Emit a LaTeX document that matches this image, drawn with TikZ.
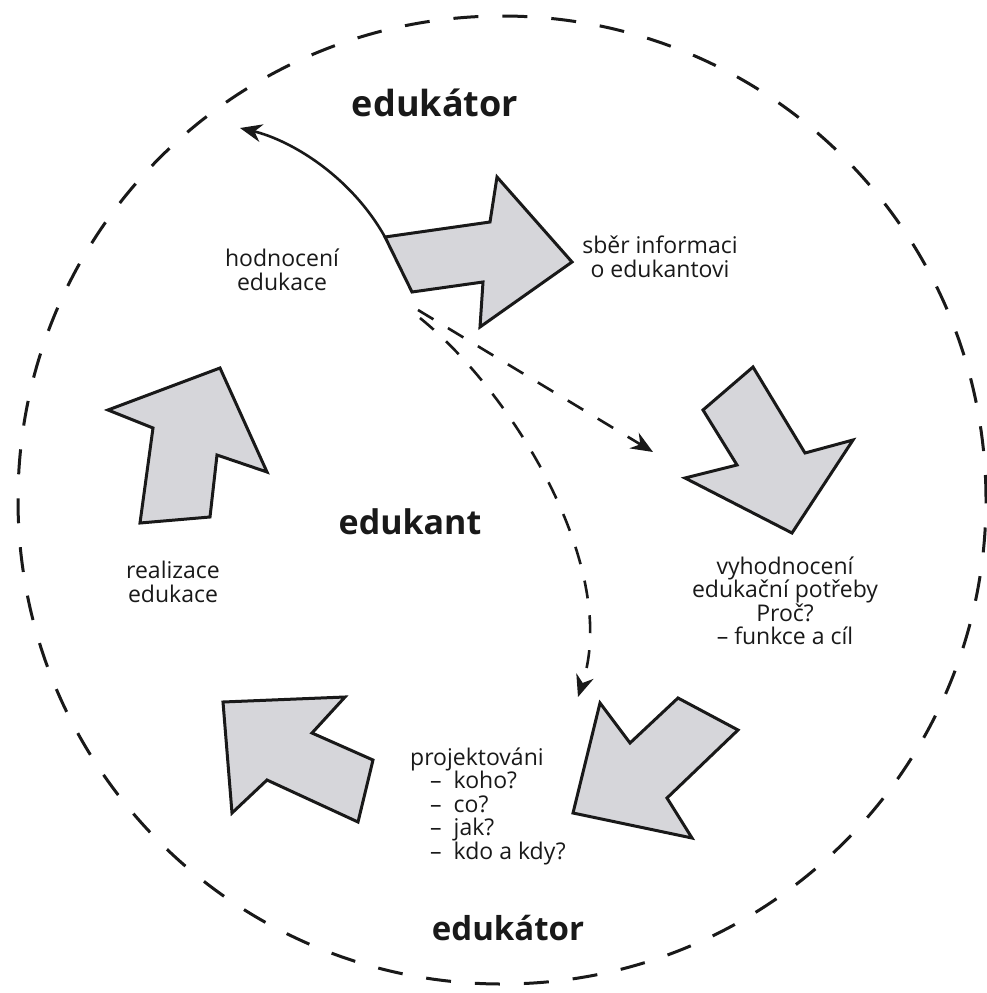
\documentclass[tikz,border=0pt]{standalone}
\usepackage{fontspec}
\setmainfont{Open Sans}
\usetikzlibrary{arrows.meta}
\definecolor{arrowfill}{RGB}{214,214,218}
\definecolor{ink}{RGB}{25,25,25}
\begin{document}
\begin{tikzpicture}[x=1pt,y=-1pt,
  shapearrow/.style={draw=ink, line width=3pt, fill=arrowfill, line join=miter},
  ring/.style={draw=ink, line width=3pt, dash pattern=on 25pt off 24pt},
  flow/.style={draw=ink, line width=2.6pt, -{Stealth[length=22pt,width=18pt]}},
  dflow/.style={flow, dash pattern=on 18pt off 17pt},
  lbl/.style={text=ink, font=\fontsize{23}{23.5}\selectfont, align=center, inner sep=0pt},
  big/.style={text=ink, font=\bfseries\fontsize{34}{36}\selectfont, inner sep=0pt}]
\fill[white] (0,0) rectangle (987,993);
\useasboundingbox (0,0) rectangle (987,993);

% outer dashed circle
\draw[ring] (502,500) circle[radius=484pt];

% big block arrows
\draw[shapearrow] (385,237) -- (490,222) -- (497,177) -- (572,262) -- (480,327) -- (483,282) -- (412,292) -- cycle;
\draw[shapearrow] (753,367) -- (805,453) -- (853,440) -- (792,533) -- (685,478) -- (737,465) -- (703,410) -- cycle;
\draw[shapearrow] (573,813) -- (600,703) -- (630,743) -- (678,698) -- (738,730) -- (667,798) -- (692,838) -- cycle;
\draw[shapearrow] (223,702) -- (345,697) -- (312,733) -- (373,760) -- (358,822) -- (267,780) -- (232,813) -- cycle;
\draw[shapearrow] (220,368) -- (267,472) -- (217,455) -- (210,517) -- (140,523) -- (153,428) -- (108,410) -- cycle;

% labels
\node[big, font=\bfseries\fontsize{36}{38}\selectfont] (topedu) at (435,103) {edukátor};
\node[big] (edukant) at (410,522) {edukant};
\node[big, font=\bfseries\fontsize{33}{35}\selectfont] (botedu) at (508,928) {edukátor};
\node[lbl] (hod) at (282,270) {hodnocení\\edukace};
\node[lbl] (sber) at (660,257) {sběr informaci\\o edukantovi};
\node[lbl] (vyh) at (785,601) {vyhodnocení\\edukační potřeby\\Proč?\\– funkce a cíl};
\node[lbl] (real) at (173,582) {realizace\\edukace};
\node[lbl, align=left, anchor=west] (proj) at (410,806) {projektováni\\\hspace*{20pt}–\hspace{12pt}koho?\\\hspace*{20pt}–\hspace{12pt}co?\\\hspace*{20pt}–\hspace{12pt}jak?\\\hspace*{20pt}–\hspace{12pt}kdo a kdy?};

% connectors
\coordinate (c1) at (385,237);
\coordinate (e1) at (240,128);
\coordinate (d0) at (418,310);
\coordinate (d1) at (653,452);
\coordinate (d2) at (420,318);
\coordinate (d3) at (578,697);
\draw[flow] (c1) .. controls (350,175) and (290,140) .. (e1);
\draw[dflow] (d0) -- (d1);
\draw[dflow] (d2) .. controls (515,395) and (620,570) .. (d3);
\end{tikzpicture}
\end{document}
